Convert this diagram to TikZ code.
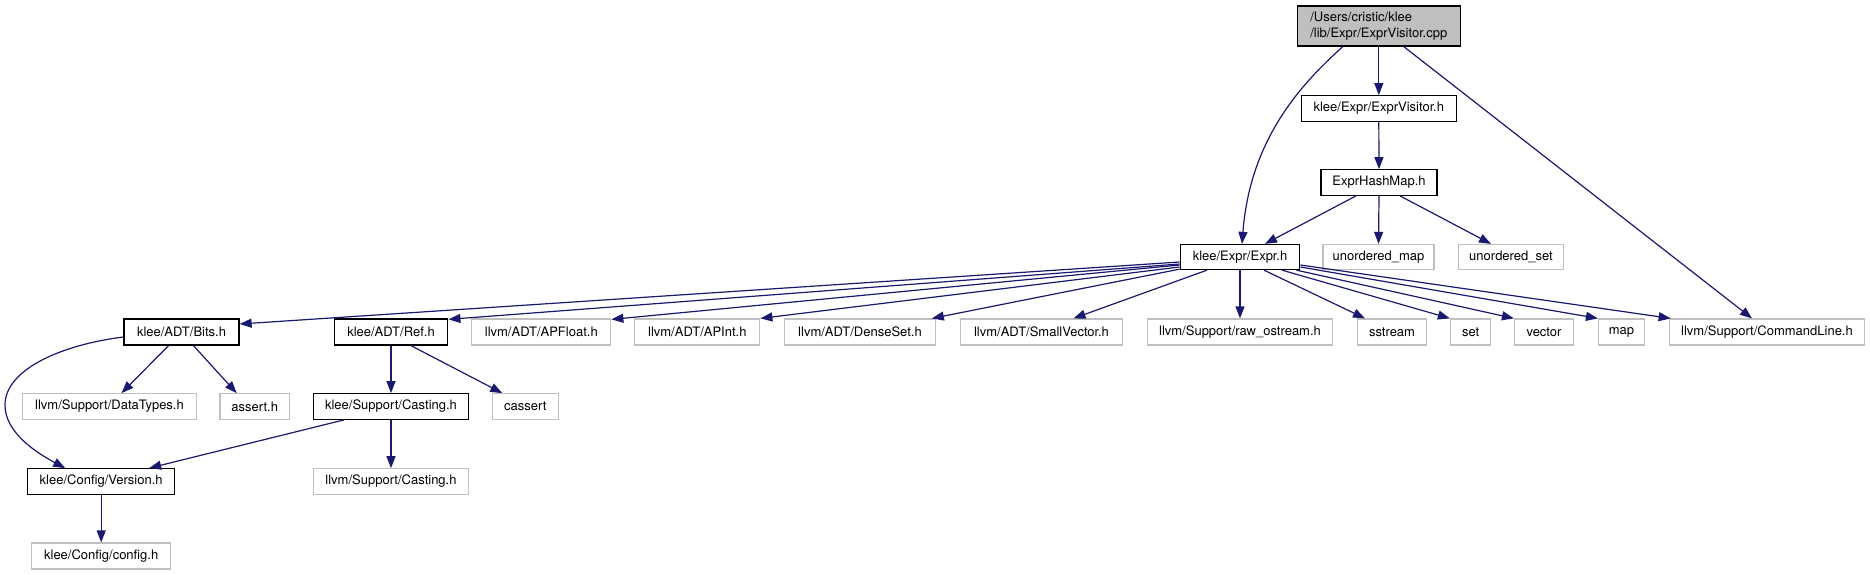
\documentclass[tikz,border=0pt]{standalone}
\usepackage{fontspec}
\setmainfont{TeX Gyre Heros}
\usetikzlibrary{arrows.meta}
\definecolor{edgeblue}{HTML}{191970}
\definecolor{graybox}{HTML}{BFBFBF}
\definecolor{rootfill}{HTML}{BFBFBF}
\begin{document}
\begin{tikzpicture}[x=1pt,y=-1pt,
  every node/.style={font=\fontsize{13}{15.5}\selectfont, inner sep=0pt, rectangle},
  blackbox/.style={draw=black, line width=1.3pt, minimum height=25.5pt},
  lightbox/.style={draw=graybox, line width=1.2pt, minimum height=25.5pt},
  dep/.style={draw=edgeblue, line width=1.2pt, -{Triangle[length=12pt,width=9pt]}}
]
\useasboundingbox (0,0) rectangle (1870,575);
\fill[white] (0,0) rectangle (1870,575);

% nodes
\node[blackbox, fill=rootfill, minimum width=163pt, minimum height=40pt, align=left] (root) at (1378.8,26) {/Users/cristic/klee\\/lib/Expr/ExprVisitor.cpp};
\node[blackbox, minimum width=155pt] (evh) at (1378.8,108.5) {klee/Expr/ExprVisitor.h};
\node[blackbox, minimum width=116pt] (ehm) at (1379,182.5) {ExprHashMap.h};
\node[blackbox, minimum width=119.5pt, minimum height=25pt] (expr) at (1240,257) {klee/Expr/Expr.h};
\node[lightbox, minimum width=111pt, minimum height=25pt] (umap) at (1378.5,257) {unordered\_map};
\node[lightbox, minimum width=104.5pt, minimum height=25pt] (uset) at (1511,257) {unordered\_set};

\node[blackbox, minimum width=115pt, minimum height=26pt] (bits) at (181.5,332) {klee/ADT/Bits.h};
\node[blackbox, minimum width=113.6pt, minimum height=26pt] (ref) at (391,332) {klee/ADT/Ref.h};
\node[lightbox, minimum width=139pt, minimum height=26pt] (apfloat) at (541.3,332) {llvm/ADT/APFloat.h};
\node[lightbox, minimum width=125pt, minimum height=26pt] (apint) at (697.3,332) {llvm/ADT/APInt.h};
\node[lightbox, minimum width=150.5pt, minimum height=26pt] (denseset) at (860,332) {llvm/ADT/DenseSet.h};
\node[lightbox, minimum width=162.5pt, minimum height=26pt] (smallvec) at (1041.5,332) {llvm/ADT/SmallVector.h};
\node[lightbox, minimum width=185.5pt, minimum height=26pt] (rawos) at (1240,332) {llvm/Support/raw\_ostream.h};
\node[lightbox, minimum width=69pt, minimum height=26pt] (sstream) at (1392,332) {sstream};
\node[lightbox, minimum width=40.3pt, minimum height=26pt] (set) at (1470.6,332) {set};
\node[lightbox, minimum width=59pt, minimum height=26pt] (vector) at (1544,332) {vector};
\node[lightbox, minimum width=46pt, minimum height=26pt] (map) at (1621.5,332) {map};
\node[lightbox, minimum width=195.5pt, minimum height=26pt] (cmdline) at (1767,332) {llvm/Support/CommandLine.h};

\node[lightbox, minimum width=174pt] (datatypes) at (109.5,406.5) {llvm/Support/DataTypes.h};
\node[lightbox, minimum width=69.4pt] (assert) at (254.7,406.5) {assert.h};
\node[blackbox, minimum width=154.6pt] (kcast) at (391,406.5) {klee/Support/Casting.h};
\node[lightbox, minimum width=66pt] (cassert) at (525.3,406.5) {cassert};

\node[blackbox, minimum width=147pt] (version) at (101.2,481.5) {klee/Config/Version.h};
\node[lightbox, minimum width=154.6pt] (lcast) at (391,481.5) {llvm/Support/Casting.h};
\node[lightbox, minimum width=139pt, minimum height=26pt] (config) at (101.2,556) {klee/Config/config.h};

% edges
\draw[dep] (root.south) -- (evh.north);
\draw[dep] ([xshift=-36pt]root.south) .. controls (1300,85) and (1250,140) .. ([xshift=2pt]expr.north);
\draw[dep] ([xshift=25pt]root.south) -- ([xshift=-15pt]cmdline.north);
\draw[dep] (evh.south) -- (ehm.north);
\draw[dep] ([xshift=-23pt]ehm.south) -- ([xshift=25pt]expr.north);
\draw[dep] (ehm.south) -- (umap.north);
\draw[dep] ([xshift=21pt]ehm.south) -- ([xshift=-20pt]uset.north);

\draw[dep] ([yshift=-5pt]expr.west) -- ([yshift=8pt]bits.east);
\draw[dep] ([yshift=-7pt]expr.west) -- ([yshift=-1pt]ref.north east);
\draw[dep] ([yshift=-8pt]expr.west) -- ([yshift=-1pt]apfloat.north east);
\draw[dep] ([yshift=-10pt]expr.west) -- (apint.north east);
\draw[dep] ([yshift=1pt]expr.south west) -- ([xshift=-4pt]denseset.north east);
\draw[dep] ([xshift=-33pt]expr.south) -- ([xshift=32pt]smallvec.north);
\draw[dep] (expr.south) -- (rawos.north);
\draw[dep] ([xshift=24pt]expr.south) -- ([xshift=-27pt]sstream.north);
\draw[dep] ([xshift=42pt]expr.south) -- (set.north west);
\draw[dep] ([xshift=-4pt]expr.south east) -- (vector.north west);
\draw[dep] ([yshift=-10pt]expr.east) -- (map.north west);
\draw[dep] ([yshift=-8pt]expr.east) -- ([xshift=2pt]cmdline.north west);

\draw[dep] ([yshift=-5pt]bits.west) .. controls (60,345) and (5,370) .. (5,405) .. controls (5,432) and (35,452) .. ([xshift=-36pt]version.north);
\draw[dep] ([xshift=-13pt]bits.south) -- ([xshift=12pt]datatypes.north);
\draw[dep] ([xshift=12pt]bits.south) -- ([xshift=-18pt]assert.north);
\draw[dep] (ref.south) -- (kcast.north);
\draw[dep] ([xshift=20pt]ref.south) -- ([xshift=-23pt]cassert.north);
\draw[dep] ([xshift=-47pt]kcast.south) -- ([xshift=48pt]version.north);
\draw[dep] (kcast.south) -- (lcast.north);
\draw[dep] (version.south) -- (config.north);
\end{tikzpicture}
\end{document}
